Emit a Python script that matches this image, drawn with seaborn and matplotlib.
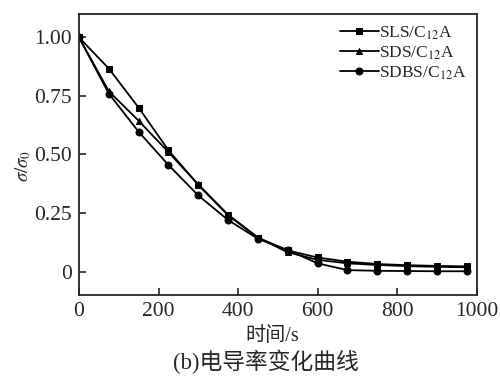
import numpy as np
import pandas as pd
import matplotlib
matplotlib.use('Agg')
import matplotlib.pyplot as plt
import seaborn as sns

# time (s) and normalized conductivity sigma/sigma0
time_s = [0, 75, 150, 225, 300, 375, 450, 525, 600, 675, 750, 825, 900, 975]
sls = [1.00, 0.867, 0.700, 0.518, 0.370, 0.240, 0.145, 0.090, 0.060, 0.042, 0.032, 0.027, 0.024, 0.022]
sds = [1.00, 0.770, 0.644, 0.510, 0.372, 0.243, 0.145, 0.082, 0.050, 0.035, 0.028, 0.023, 0.020, 0.018]
sdbs = [1.00, 0.760, 0.597, 0.455, 0.325, 0.220, 0.140, 0.092, 0.035, 0.006, 0.003, 0.002, 0.001, 0.001]
series_names = ['SLS/C$_{12}$A', 'SDS/C$_{12}$A', 'SDBS/C$_{12}$A']

xticks = [0, 200, 400, 600, 800, 1000]
yticks = [0, 0.25, 0.50, 0.75, 1.00]
ytick_labels = ['0', '0.25', '0.50', '0.75', '1.00']

sns.set_style('ticks')
plt.rcParams['font.family'] = ['Liberation Serif', 'Noto Sans CJK SC']
plt.rcParams['mathtext.fontset'] = 'stix'

df = pd.concat([
    pd.DataFrame({'time': time_s, 'value': vals, 'sample': name})
    for name, vals in zip(series_names, [sls, sds, sdbs])
])

fig = plt.figure(figsize=(5, 3.84), dpi=100)
ax = fig.add_axes([0.158, 0.232, 0.795, 0.7315])

sns.lineplot(data=df, x='time', y='value', hue='sample', style='sample',
             palette=['black'] * 3, markers=['s', '^', 'o'], dashes=False,
             markersize=5, lw=1.3, mec='black', ax=ax)

ax.set_xlim(0, 1000)
ax.set_ylim(-0.1, 1.1)
ax.set_xticks(xticks)
ax.set_yticks(yticks)
ax.set_yticklabels(ytick_labels)
ax.tick_params(direction='in', labelsize=15.5, width=1.2, length=5, pad=5)
for sp in ax.spines.values():
    sp.set_linewidth(1.3)

ax.set_xlabel('时间/s', fontsize=14.5, family=['Liberation Serif', 'Noto Sans CJK SC'])
ax.xaxis.set_label_coords(0.487, -0.113)
ax.set_ylabel(r'$\sigma/\sigma_0$', fontsize=13.5)
ax.yaxis.set_label_coords(-0.116, 0.46)

leg = ax.legend(loc='upper right', frameon=False, fontsize=12.5, handlelength=2.2,
                handletextpad=0.0, labelspacing=0.15, borderaxespad=0.2)

fig.text(0.531, 0.057, '(b)电导率变化曲线', ha='center', va='center', fontsize=16.4,
         family=['Liberation Serif', 'Noto Sans CJK SC'])

fig.savefig('out.png', dpi=100)
